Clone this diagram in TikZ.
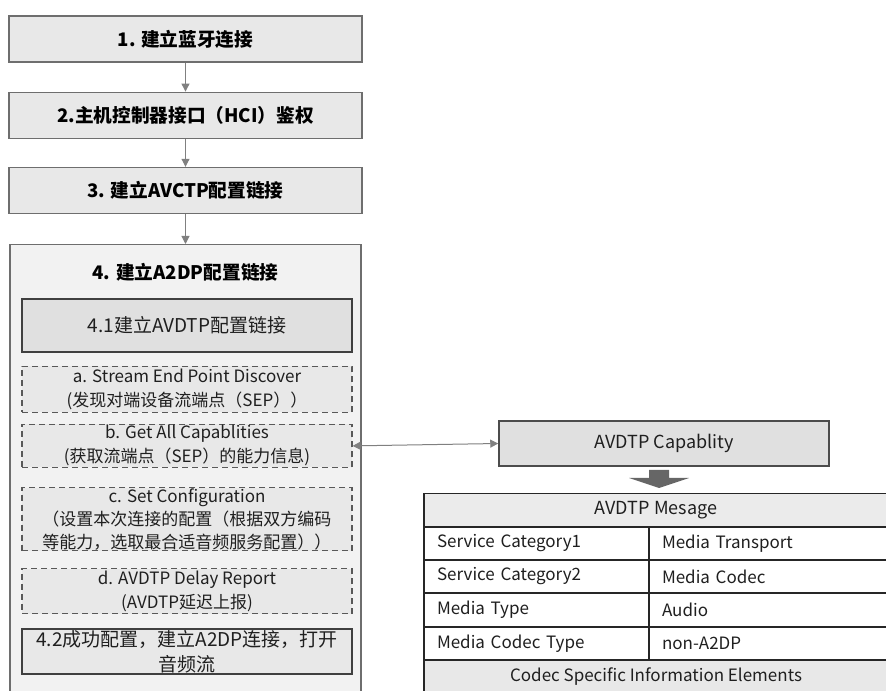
\documentclass[tikz,border=0pt]{standalone}
\usepackage{fontspec}
\setmainfont{Noto Sans CJK SC}
\usetikzlibrary{positioning}
\usetikzlibrary{arrows.meta}

\definecolor{stepline}{HTML}{6E6E6E}
\definecolor{stepfill}{HTML}{E8E8E8}
\definecolor{outerfill}{HTML}{F2F2F2}
\definecolor{subfill}{HTML}{E0E0E0}
\definecolor{dashfill}{HTML}{E8E8E8}
\definecolor{flowgray}{HTML}{808080}
\definecolor{blockgray}{HTML}{666666}
\definecolor{tableline}{HTML}{262626}
\definecolor{headfill}{HTML}{EBEBEB}
\definecolor{textgray}{HTML}{1F1F1F}

\begin{document}
\begin{tikzpicture}[x=0.75pt,y=-0.75pt,
	stepbox/.style={draw=stepline,fill=stepfill,line width=0.9pt,minimum width=264.75pt,minimum height=34.5pt,inner sep=0pt,text=black,font=\fontsize{14pt}{16pt}\selectfont\bfseries},
	outerbox/.style={draw=stepline,fill=outerfill,line width=0.9pt,minimum width=263.25pt,minimum height=358.5pt,inner sep=0pt},
	subbox/.style={draw=black!75,fill=subfill,line width=0.9pt,minimum width=247.5pt,inner sep=0pt,align=center,text=textgray,font=\fontsize{14.25pt}{18.5pt}\selectfont},
	dashbox/.style={subbox,draw=black!65,fill=dashfill,dash pattern=on 4.5pt off 3pt,font=\fontsize{12.75pt}{18pt}\selectfont},
	flow/.style={draw=flowgray,line width=0.75pt,-{Triangle[length=6pt,width=6pt]}},
	cell/.style={draw=tableline,line width=0.9pt,minimum height=24.75pt,inner ysep=0pt,text=textgray,font=\fontsize{12.75pt}{14pt}\selectfont},
	leftcell/.style={cell,fill=white,text width=149.25pt,inner xsep=9.75pt,align=left},
	rightcell/.style={cell,fill=white,text width=159.75pt,inner xsep=9.75pt,align=left}]
	\path[use as bounding box,clip] (0,0) rectangle (886,691);

	\node[stepbox] (s1) at (185.5,39) {1. 建立蓝牙连接};
	\node[stepbox,below=21.75pt of s1] (s2) {2.主机控制器接口（HCI）鉴权};
	\node[stepbox,below=21pt of s2] (s3) {3. 建立AVCTP配置链接};
	\node[outerbox,below=22.5pt of s3] (s4) {};
	\node[font=\fontsize{14pt}{16pt}\selectfont\bfseries,below=11pt of s4.north] (t4) {4. 建立A2DP配置链接};

	\node[subbox,minimum height=39.75pt] (s41) at (187,325.5) {4.1建立AVDTP配置链接};
	\node[dashbox,minimum height=34.5pt,below=9.75pt of s41] (sa) {a. Stream End Point Discover\\(发现对端设备流端点（SEP））};
	\node[dashbox,minimum height=32.25pt,below=8.25pt of sa] (sb) {b. Get All Capablities\\(获取流端点（SEP）的能力信息)};
	\node[dashbox,minimum height=47.25pt,below=14.25pt of sb,font=\fontsize{12.75pt}{17.25pt}\selectfont] (sc) {c. Set Configuration\\（设置本次连接的配置（根据双方编码\\等能力，选取最合适音频服务配置））};
	\node[dashbox,minimum height=33.75pt,below=12.75pt of sc] (sd) {d. AVDTP Delay Report\\(AVDTP延迟上报)};
	\node[subbox,fill=stepfill,minimum height=33.75pt,below=10.5pt of sd] (s42) {4.2成功配置，建立A2DP连接，打开\\音频流};

	\node[subbox,draw=black!70,line width=1.1pt,minimum height=33.75pt,font=\fontsize{13.5pt}{16pt}\selectfont] (cap) at (664,443.5) {AVDTP Capablity};

	\node[cell,fill=headfill,minimum width=348pt,font=\fontsize{13.5pt}{16pt}\selectfont] (hdr) at (656,510) {AVDTP Mesage};
	\node[leftcell] (c1) at (536.5,543.5) {Service Category1};
	\node[rightcell] (v1) at (768.5,543.5) {Media Transport};
	\node[leftcell] (c2) at (536.5,576.5) {Service Category2};
	\node[rightcell] (v2) at (768.5,576.5) {Media Codec};
	\node[leftcell] (c3) at (536.5,610) {Media Type};
	\node[rightcell] (v3) at (768.5,610) {Audio};
	\node[leftcell] (c4) at (536.5,643.5) {Media Codec Type};
	\node[rightcell] (v4) at (768.5,643.5) {non-A2DP};
	\node[cell,fill=stepfill,minimum width=348pt] (cie) at (656,676.5) {Codec Specific Information Elements};

	\draw[flow] (s1) -- (s2);
	\draw[flow] (s2) -- (s3);
	\draw[flow] (s3) -- (s4);
	\draw[flow,{Triangle[length=6pt,width=6pt]}-{Triangle[length=6pt,width=6pt]}] (sb.east) -- (cap.west);
	\fill[blockgray] (649,470) -- (669,470) -- (669,478) -- (689,478) -- (659,488) -- (629,478) -- (649,478) -- cycle;
\end{tikzpicture}
\end{document}
